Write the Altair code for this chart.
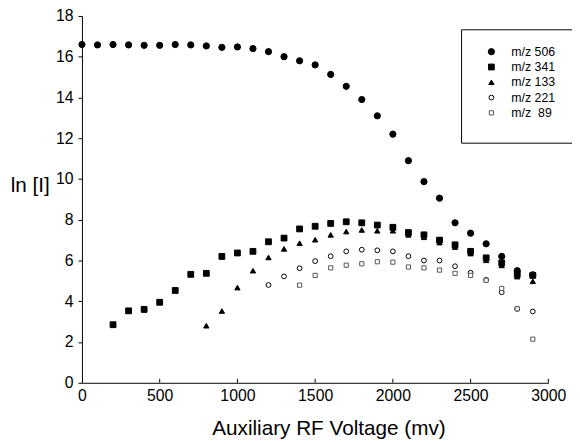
import altair as alt
import pandas as pd

# ---- data ----
series_labels = ["m/z 506", "m/z 341", "m/z 133", "m/z 221", "m/z\u00a0 89"]

v506 = [0, 100, 200, 300, 400, 500, 600, 700, 800, 900, 1000, 1100, 1200, 1300, 1400,
        1500, 1600, 1700, 1800, 1900, 2000, 2100, 2200, 2300, 2400, 2500, 2600, 2700, 2800, 2900]
y506 = [16.6, 16.58, 16.6, 16.58, 16.56, 16.56, 16.6, 16.58, 16.53, 16.46, 16.48, 16.4, 16.25, 16.0, 15.8,
        15.6, 15.13, 14.55, 13.9, 13.1, 12.2, 10.9, 9.87, 9.06, 7.85, 7.34, 6.82, 6.2, 5.5, 5.3]

v341 = [200, 300, 400, 500, 600, 700, 800, 900, 1000, 1100, 1200, 1300, 1400,
        1500, 1600, 1700, 1800, 1900, 2000, 2100, 2200, 2300, 2400, 2500, 2600, 2700, 2800, 2900]
y341 = [2.85, 3.53, 3.6, 3.95, 4.53, 5.32, 5.37, 6.2, 6.37, 6.45, 6.92, 7.1, 7.55,
        7.68, 7.82, 7.9, 7.85, 7.74, 7.63, 7.37, 7.26, 7.0, 6.77, 6.45, 6.13, 5.88, 5.32, 5.27]

v133 = [800, 900, 1000, 1100, 1200, 1300, 1400, 1500, 1600, 1700, 1800,
        1900, 2000, 2100, 2200, 2300, 2400, 2500, 2600, 2700, 2800, 2900]
y133 = [2.8, 3.52, 4.67, 5.5, 6.15, 6.57, 6.85, 7.02, 7.26, 7.42, 7.5,
        7.46, 7.46, 7.26, 7.14, 6.88, 6.66, 6.34, 6.01, 5.76, 5.21, 4.98]

v221 = [1200, 1300, 1400, 1500, 1600, 1700, 1800, 1900, 2000,
        2100, 2200, 2300, 2400, 2500, 2600, 2700, 2800, 2900]
y221 = [4.8, 5.22, 5.62, 5.97, 6.21, 6.45, 6.53, 6.5, 6.45,
        6.21, 6.0, 6.0, 5.72, 5.4, 5.05, 4.44, 3.63, 3.5]

v89 = [1400, 1500, 1600, 1700, 1800, 1900, 2000, 2100,
       2200, 2300, 2400, 2500, 2600, 2700, 2800, 2900]
y89 = [4.79, 5.27, 5.64, 5.77, 5.84, 5.94, 5.92, 5.68,
       5.64, 5.53, 5.37, 5.27, 5.03, 4.63, 3.63, 2.14]

x_ticks = [0, 500, 1000, 1500, 2000, 2500, 3000]
y_ticks = [0, 2, 4, 6, 8, 10, 12, 14, 16, 18]

# ---- build table ----
rows = []
for lab, xs, ys in zip(series_labels,
                       [v506, v341, v133, v221, v89],
                       [y506, y341, y133, y221, y89]):
    for xv, yv in zip(xs, ys):
        rows.append({"voltage": xv, "lnI": yv, "series": lab})
df = pd.DataFrame(rows)
tick_df = pd.DataFrame({"t": x_ticks[1:]})
box_df = pd.DataFrame({"k": [0]})

shapes = ["circle", "square", "triangle-up", "circle", "square"]
fills = ["black", "black", "black", "white", "white"]
strokes = ["black", "black", "black", "black", "#555555"]
sizes = [40, 18, 60, 30, 36]

FONT = "Liberation Sans"
W, H = 473, 372

leg = alt.Legend(title=None, orient="none", legendX=409, legendY=30)

x_enc = alt.X("voltage:Q",
              scale=alt.Scale(domain=[0, 3000], nice=False, zero=False),
              axis=alt.Axis(values=x_ticks, format="d", title="Auxiliary RF Voltage (mv)", grid=False,
                            ticks=False, labelPadding=5, labelFontSize=16,
                            titleFontSize=21, titleFontWeight="normal",
                            titleX=250, titleY=52, titleAlign="center",
                            titleBaseline="alphabetic", labelFlush=False))
y_enc = alt.Y("lnI:Q",
              scale=alt.Scale(domain=[0, 18], nice=False),
              axis=alt.Axis(values=y_ticks, title="ln [I]", grid=False, tickSize=4,
                            labelPadding=5, labelFontSize=16,
                            titleFontSize=21, titleFontWeight="normal", titleAngle=0,
                            titleX=-53, titleY=172, titleAlign="center",
                            titleBaseline="middle", labelFlush=False))

points = alt.Chart(df).mark_point(filled=True, opacity=1, strokeWidth=1).encode(
    x=x_enc,
    y=y_enc,
    shape=alt.Shape("series:N", scale=alt.Scale(domain=series_labels, range=shapes), legend=leg),
    fill=alt.Fill("series:N", scale=alt.Scale(domain=series_labels, range=fills), legend=leg),
    stroke=alt.Stroke("series:N", scale=alt.Scale(domain=series_labels, range=strokes), legend=leg),
    size=alt.Size("series:N", scale=alt.Scale(domain=series_labels, range=sizes), legend=leg),
)

inner_ticks = alt.Chart(tick_df).mark_rule(color="black", strokeWidth=1).encode(
    x="t:Q",
    y=alt.value(H),
    y2=alt.value(H - 4),
)

legend_box = alt.Chart(box_df).mark_rect(fill="white", stroke="black", strokeWidth=1).encode(
    x=alt.value(385), x2=alt.value(505), y=alt.value(14), y2=alt.value(129)
)

chart = alt.layer(legend_box, inner_ticks, points).properties(
    width=W, height=H,
    autosize=alt.AutoSizeParams(type="none"),
    padding={"left": 75, "top": 5, "right": 24, "bottom": 59},
).configure_view(stroke=None).configure_axis(
    labelFont=FONT, titleFont=FONT, labelColor="black", titleColor="black",
    domainColor="black", tickColor="black", domainWidth=1
).configure_legend(
    labelFont=FONT, labelFontSize=12.5, labelColor="black", padding=0,
    rowPadding=2.5, labelOffset=14, symbolStrokeWidth=1, symbolOffset=0
)

chart.save("out.html", embed_options={"renderer": "svg", "actions": False})
